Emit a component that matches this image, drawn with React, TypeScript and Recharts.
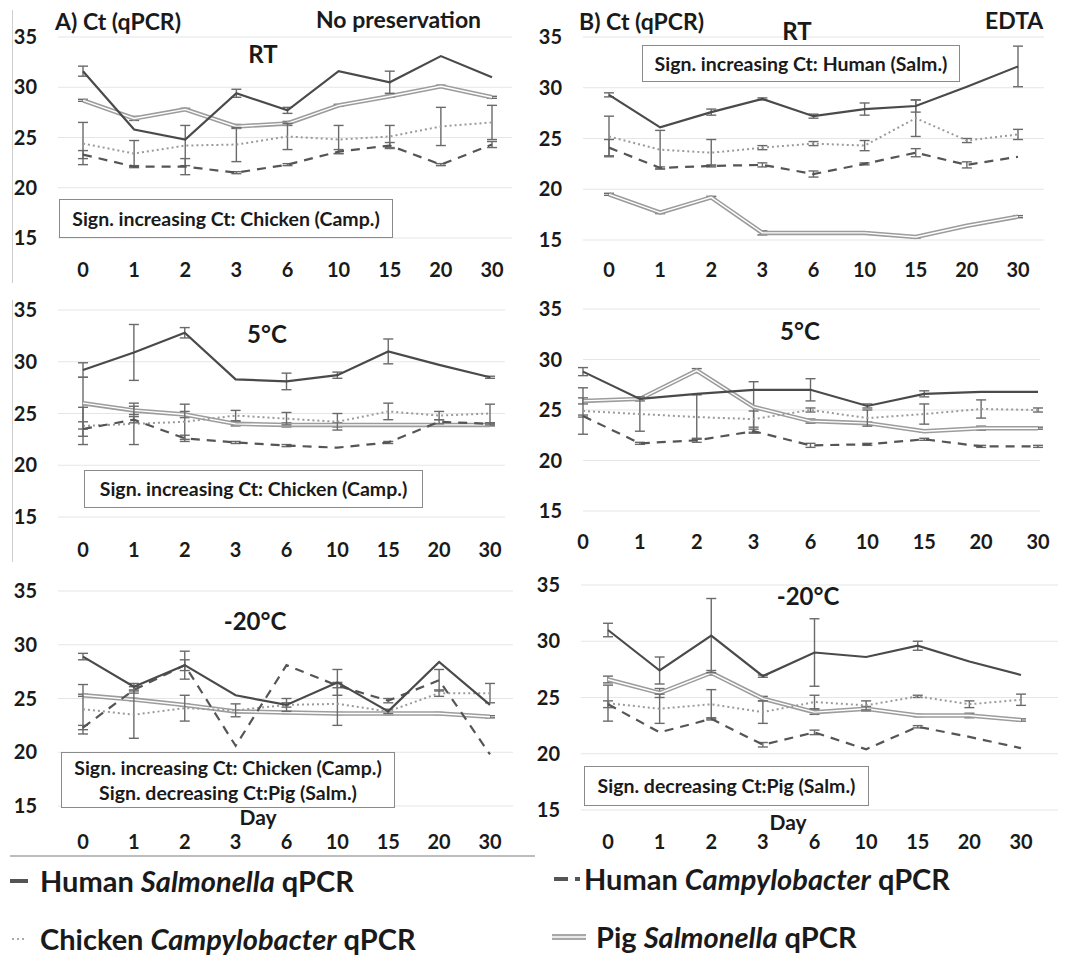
import { LineChart, Line, XAxis, YAxis, CartesianGrid, ErrorBar } from 'recharts';

const DAYS = ['0', '1', '2', '3', '6', '10', '15', '20', '30'];
const CT_TICKS = [15, 20, 25, 30, 35];

// A) no preservation, RT
const aRtHumanSalm = [31.6, 25.8, 24.8, 29.4, 27.7, 31.6, 30.5, 33.1, 31.0];
const aRtHumanSalmErr = [0.5, 0, 0, 0.4, 0.3, 0, 1.1, 0, 0];
const aRtHumanCamp = [23.3, 22.1, 22.1, 21.5, 22.3, 23.6, 24.2, 22.3, 24.3];
const aRtHumanCampErr = [0.4, 0.1, 0.8, 0.1, 0.1, 0.2, 0.3, 0.1, 0.3];
const aRtChickenCamp = [24.4, 23.4, 24.2, 24.3, 25.1, 24.8, 25.1, 26.1, 26.5];
const aRtChickenCampErr = [2.1, 1.3, 2.0, 1.7, 1.3, 1.4, 1.1, 1.9, 1.7];
const aRtPigSalm = [28.7, 26.9, 27.8, 26.1, 26.4, 28.2, 29.1, 30.1, 29.0];
const aRtPigSalmErr = [0.1, 0.2, 0.1, 0.2, 0.2, 0.1, 0.1, 0.1, 0.1];

// A) no preservation, 5°C
const a5HumanSalm = [29.2, 30.9, 32.8, 28.3, 28.1, 28.7, 31.0, 29.7, 28.5];
const a5HumanSalmErr = [0.7, 2.7, 0.5, 0, 0.8, 0.3, 1.2, 0, 0.1];
const a5HumanCamp = [23.5, 24.4, 22.6, 22.2, 21.9, 21.7, 22.2, 24.2, 24.0];
const a5HumanCampErr = [0.7, 0.3, 0.3, 0.1, 0.1, 0, 0.1, 0.2, 0.1];
const a5ChickenCamp = [23.8, 24.0, 24.2, 24.8, 24.5, 24.2, 25.2, 24.8, 25.0];
const a5ChickenCampErr = [1.8, 2.0, 1.7, 0.5, 0.6, 0.8, 0.8, 0.4, 0.9];
const a5PigSalm = [26.0, 25.3, 24.9, 24.0, 23.9, 23.9, 23.9, 23.9, 23.9];
const a5PigSalmErr = [2.5, 0.4, 0.3, 0.2, 0.2, 0.2, 0.1, 0.1, 0.1];

// A) no preservation, -20°C
const aFrHumanSalm = [28.9, 26.1, 28.1, 25.3, 24.4, 26.5, 23.8, 28.4, 24.4];
const aFrHumanSalmErr = [0.3, 0.3, 1.3, 0, 0.2, 1.2, 0, 0, 0];
const aFrHumanCamp = [22.3, 25.8, 28.1, 20.6, 28.1, 26.2, 24.8, 26.7, 19.8];
const aFrHumanCampErr = [0.2, 0.3, 0.5, 0, 0, 0.2, 0.2, 1.0, 0];
const aFrChickenCamp = [24.0, 23.5, 24.1, 23.9, 24.4, 24.5, 23.8, 25.5, 25.5];
const aFrChickenCampErr = [2.3, 2.2, 1.2, 0.6, 0.6, 2.0, 0.2, 0.3, 0.9];
const aFrPigSalm = [25.3, 24.9, 24.4, 23.8, 23.7, 23.6, 23.6, 23.6, 23.3];
const aFrPigSalmErr = [0.1, 0.1, 0.1, 0.1, 0.1, 0.1, 0.1, 0.1, 0.1];

// B) EDTA, RT
const bRtHumanSalm = [29.3, 26.1, 27.6, 28.9, 27.2, 27.9, 28.2, 30.1, 32.1];
const bRtHumanSalmErr = [0.2, 0, 0.3, 0.1, 0.2, 0.6, 0.6, 0, 2.0];
const bRtHumanCamp = [24.1, 22.1, 22.3, 22.4, 21.5, 22.5, 23.6, 22.4, 23.2];
const bRtHumanCampErr = [0.8, 0.1, 0.1, 0.2, 0.3, 0.1, 0.4, 0.3, 0];
const bRtChickenCamp = [25.2, 23.9, 23.6, 24.1, 24.5, 24.3, 27.0, 24.8, 25.4];
const bRtChickenCampErr = [2.0, 1.9, 1.3, 0.2, 0.2, 0.5, 1.8, 0.2, 0.5];
const bRtPigSalm = [19.5, 17.7, 19.2, 15.7, 15.7, 15.7, 15.3, 16.4, 17.3];
const bRtPigSalmErr = [0.1, 0.1, 0.1, 0.2, 0.1, 0.1, 0.1, 0, 0.1];

// B) EDTA, 5°C
const b5HumanSalm = [28.8, 26.1, 26.6, 27.0, 27.0, 25.4, 26.6, 26.8, 26.8];
const b5HumanSalmErr = [0.4, 0, 0, 0, 1.1, 0.2, 0.3, 0, 0];
const b5HumanCamp = [24.4, 21.7, 22.0, 22.9, 21.5, 21.6, 22.1, 21.4, 21.4];
const b5HumanCampErr = [0.1, 0.1, 0.2, 0.2, 0.2, 0.1, 0.1, 0.1, 0.1];
const b5ChickenCamp = [24.9, 24.6, 24.3, 24.1, 25.0, 24.2, 24.6, 25.1, 25.0];
const b5ChickenCampErr = [2.3, 1.7, 2.2, 0.8, 0.2, 0.8, 1.0, 0.9, 0.2];
const b5PigSalm = [25.9, 26.1, 28.9, 25.3, 23.9, 23.7, 22.9, 23.2, 23.2];
const b5PigSalmErr = [0.3, 0.2, 0.2, 2.5, 0.2, 0.1, 0.1, 0.2, 0.1];

// B) EDTA, -20°C
const bFrHumanSalm = [31.0, 27.4, 30.5, 26.9, 29.0, 28.6, 29.6, 28.2, 27.0];
const bFrHumanSalmErr = [0.6, 1.2, 3.3, 0.1, 3.0, 0, 0.4, 0, 0];
const bFrHumanCamp = [24.4, 21.9, 23.1, 20.8, 21.9, 20.4, 22.4, 21.5, 20.5];
const bFrHumanCampErr = [0.3, 0, 0.1, 0.2, 0.2, 0, 0.1, 0, 0];
const bFrChickenCamp = [24.5, 24.0, 24.4, 23.7, 24.6, 24.3, 25.1, 24.4, 24.8];
const bFrChickenCampErr = [1.6, 1.3, 1.3, 1.0, 0.6, 0.4, 0.1, 0.3, 0.5];
const bFrPigSalm = [26.6, 25.4, 27.2, 24.9, 23.7, 24.0, 23.4, 23.4, 23.0];
const bFrPigSalmErr = [0.3, 0.4, 0.2, 0.2, 0.2, 0.2, 0.1, 0.2, 0.1];

const FONT = 'Lato, "Open Sans", sans-serif';
const TEXT = '#1a1a1a';

type Row = Record<string, string | number>;

function rows(
  hs: number[], hsErr: number[],
  hc: number[], hcErr: number[],
  cc: number[], ccErr: number[],
  ps: number[], psErr: number[],
): Row[] {
  return DAYS.map((day, i) => ({
    day,
    hs: hs[i], hsErr: hsErr[i],
    hc: hc[i], hcErr: hcErr[i],
    cc: cc[i], ccErr: ccErr[i],
    ps: ps[i], psErr: psErr[i],
  }));
}

// box = chart rectangle on the page, plot = grid extent, first/last = x of day 0 / day 30
type PanelProps = {
  data: Row[];
  box: { x: number; y: number; w: number; h: number };
  plot: { left: number; right: number; top: number; bottom: number };
  first: number;
  last: number;
  tickGap: number;
};

function Panel({ data, box, plot, first, last, tickGap }: PanelProps) {
  return (
    <div style={{ position: 'absolute', left: box.x, top: box.y }}>
      <LineChart
        width={box.w}
        height={box.h}
        data={data}
        margin={{ top: plot.top - box.y, right: box.x + box.w - plot.right, bottom: 0, left: 0 }}
      >
        <CartesianGrid vertical={false} stroke="#e6e6e6" strokeWidth={1.2} />
        <XAxis
          dataKey="day"
          height={box.y + box.h - plot.bottom}
          padding={{ left: first - plot.left, right: plot.right - last }}
          axisLine={false}
          tickLine={false}
          tickSize={0}
          tickMargin={tickGap}
          interval={0}
          tick={{ fontSize: 20, fontWeight: 700, fill: TEXT, fontFamily: FONT }}
        />
        <YAxis
          width={plot.left - box.x}
          domain={[15, 35]}
          ticks={CT_TICKS}
          interval={0}
          allowDataOverflow
          axisLine={false}
          tickLine={false}
          tickSize={0}
          tickMargin={21}
          tick={{ fontSize: 20, fontWeight: 700, fill: TEXT, fontFamily: FONT }}
        />
        <Line dataKey="ps" stroke="#9c9c9c" strokeWidth={4.5} dot={false} isAnimationActive={false}>
          <ErrorBar dataKey="psErr" width={5} strokeWidth={1.4} stroke="#6a6a6a" direction="y" />
        </Line>
        <Line dataKey="ps" stroke="#ffffff" strokeWidth={1.4} dot={false} isAnimationActive={false} />
        <Line dataKey="cc" stroke="#9a9a9a" strokeWidth={2} strokeDasharray="2 3" dot={false} isAnimationActive={false}>
          <ErrorBar dataKey="ccErr" width={5} strokeWidth={1.4} stroke="#6a6a6a" direction="y" />
        </Line>
        <Line dataKey="hc" stroke="#555555" strokeWidth={2.2} strokeDasharray="9 7" dot={false} isAnimationActive={false}>
          <ErrorBar dataKey="hcErr" width={5} strokeWidth={1.4} stroke="#6a6a6a" direction="y" />
        </Line>
        <Line dataKey="hs" stroke="#4a4a4a" strokeWidth={2.2} dot={false} isAnimationActive={false}>
          <ErrorBar dataKey="hsErr" width={5} strokeWidth={1.4} stroke="#6a6a6a" direction="y" />
        </Line>
      </LineChart>
    </div>
  );
}

function Label({ x, y, size, children, center }: { x: number; y: number; size: number; children: React.ReactNode; center?: boolean }) {
  return (
    <div
      style={{
        position: 'absolute',
        left: x,
        top: y - size * 0.62,
        fontSize: size,
        fontWeight: 700,
        lineHeight: 1.2,
        whiteSpace: 'nowrap',
        transform: center ? 'translateX(-50%)' : undefined,
        color: TEXT,
      }}
    >
      {children}
    </div>
  );
}

function Note({ x, y, w, h, lines }: { x: number; y: number; w: number; h: number; lines: string[] }) {
  return (
    <div
      style={{
        position: 'absolute',
        left: x,
        top: y,
        width: w,
        height: h,
        boxSizing: 'border-box',
        border: '1.5px solid #8a8a8a',
        background: '#fff',
        display: 'flex',
        flexDirection: 'column',
        justifyContent: 'center',
        alignItems: 'center',
        fontSize: 19.5,
        fontWeight: 700,
        lineHeight: 1.3,
        color: TEXT,
        whiteSpace: 'nowrap',
      }}
    >
      {lines.map((l) => (
        <div key={l}>{l}</div>
      ))}
    </div>
  );
}

function LegendItem({ x, y, kind, pre, species }: { x: number; y: number; kind: string; pre: string; species: string }) {
  const stroke =
    kind === 'solid' ? (
      <line x1={0} y1={10} x2={18} y2={10} stroke="#555" strokeWidth={4} />
    ) : kind === 'dash' ? (
      <g stroke="#555" strokeWidth={4}>
        <line x1={0} y1={10} x2={14} y2={10} />
        <line x1={21} y1={10} x2={26} y2={10} />
      </g>
    ) : kind === 'dot' ? (
      <line x1={2} y1={10} x2={16} y2={10} stroke="#aaa" strokeWidth={2} strokeDasharray="2 3" />
    ) : (
      <g>
        <line x1={0} y1={10} x2={34} y2={10} stroke="#a8a8a8" strokeWidth={6} />
        <line x1={0} y1={10} x2={34} y2={10} stroke="#fff" strokeWidth={1.5} />
      </g>
    );
  return (
    <div style={{ position: 'absolute', left: x, top: y - 19, display: 'flex', alignItems: 'center', whiteSpace: 'nowrap' }}>
      <svg width={kind === 'double' ? 40 : 30} height={20}>{stroke}</svg>
      <span style={{ fontSize: 29, fontWeight: 700, color: TEXT, marginLeft: kind === 'double' ? 4 : 0 }}>
        {pre} <i>{species}</i> qPCR
      </span>
    </div>
  );
}

export default function App() {
  const aRt = rows(aRtHumanSalm, aRtHumanSalmErr, aRtHumanCamp, aRtHumanCampErr, aRtChickenCamp, aRtChickenCampErr, aRtPigSalm, aRtPigSalmErr);
  const a5 = rows(a5HumanSalm, a5HumanSalmErr, a5HumanCamp, a5HumanCampErr, a5ChickenCamp, a5ChickenCampErr, a5PigSalm, a5PigSalmErr);
  const aFr = rows(aFrHumanSalm, aFrHumanSalmErr, aFrHumanCamp, aFrHumanCampErr, aFrChickenCamp, aFrChickenCampErr, aFrPigSalm, aFrPigSalmErr);
  const bRt = rows(bRtHumanSalm, bRtHumanSalmErr, bRtHumanCamp, bRtHumanCampErr, bRtChickenCamp, bRtChickenCampErr, bRtPigSalm, bRtPigSalmErr);
  const b5 = rows(b5HumanSalm, b5HumanSalmErr, b5HumanCamp, b5HumanCampErr, b5ChickenCamp, b5ChickenCampErr, b5PigSalm, b5PigSalmErr);
  const bFr = rows(bFrHumanSalm, bFrHumanSalmErr, bFrHumanCamp, bFrHumanCampErr, bFrChickenCamp, bFrChickenCampErr, bFrPigSalm, bFrPigSalmErr);

  return (
    <div style={{ position: 'absolute', left: 0, top: 0, width: 1070, height: 970, background: '#fff', fontFamily: FONT, overflow: 'hidden' }}>
      {/* frame lines */}
      <div style={{ position: 'absolute', left: 12, top: 10, width: 1, height: 273, background: '#cfcfcf' }} />
      <div style={{ position: 'absolute', left: 12, top: 300, width: 1, height: 262, background: '#cfcfcf' }} />
      <div style={{ position: 'absolute', left: 10, top: 855, width: 525, height: 1.5, background: '#bdbdbd' }} />

      <Panel data={aRt} box={{ x: 0, y: 0, w: 530, h: 290 }} plot={{ left: 58, right: 512, top: 37, bottom: 238 }} first={83} last={492} tickGap={25} />
      <Panel data={a5} box={{ x: 0, y: 290, w: 530, h: 280 }} plot={{ left: 58, right: 505, top: 310, bottom: 517 }} first={83} last={490} tickGap={26} />
      <Panel data={aFr} box={{ x: 0, y: 570, w: 530, h: 290 }} plot={{ left: 58, right: 513, top: 591, bottom: 806 }} first={83} last={490} tickGap={29} />
      <Panel data={bRt} box={{ x: 530, y: 0, w: 540, h: 290 }} plot={{ left: 583, right: 1044, top: 37, bottom: 240 }} first={609} last={1018} tickGap={23} />
      <Panel data={b5} box={{ x: 530, y: 290, w: 540, h: 280 }} plot={{ left: 583, right: 1040, top: 309, bottom: 511 }} first={583} last={1038} tickGap={24} />
      <Panel data={bFr} box={{ x: 530, y: 570, w: 540, h: 290 }} plot={{ left: 581, right: 1058, top: 585, bottom: 810 }} first={608} last={1021} tickGap={25} />

      {/* panel titles */}
      <Label x={55} y={22} size={23}>A) Ct (qPCR)</Label>
      <Label x={316} y={20} size={23}>No preservation</Label>
      <Label x={263} y={55} size={24} center>RT</Label>
      <Label x={579} y={22} size={23}>B) Ct (qPCR)</Label>
      <Label x={797} y={32} size={24} center>RT</Label>
      <Label x={985} y={21} size={23}>EDTA</Label>
      <Label x={267} y={335} size={24} center>5°C</Label>
      <Label x={800} y={332} size={24} center>5°C</Label>
      <Label x={255} y={622} size={24} center>-20°C</Label>
      <Label x={808} y={597} size={24} center>-20°C</Label>
      <Label x={258} y={817} size={21} center>Day</Label>
      <Label x={788} y={822} size={21} center>Day</Label>

      {/* significance notes */}
      <Note x={59} y={199} w={334} h={39} lines={['Sign. increasing Ct: Chicken (Camp.)']} />
      <Note x={642} y={45} w={318} h={37} lines={['Sign. increasing Ct: Human (Salm.)']} />
      <Note x={84} y={470} w={339} h={38} lines={['Sign. increasing Ct: Chicken (Camp.)']} />
      <Note x={61} y={752} w={334} h={56} lines={['Sign. increasing Ct: Chicken (Camp.)', 'Sign. decreasing Ct:Pig (Salm.)']} />
      <Note x={584} y={766} w={285} h={40} lines={['Sign. decreasing Ct:Pig (Salm.)']} />

      {/* legend */}
      <LegendItem x={10} y={882} kind="solid" pre="Human" species="Salmonella" />
      <LegendItem x={554} y={880} kind="dash" pre="Human" species="Campylobacter" />
      <LegendItem x={10} y={940} kind="dot" pre="Chicken" species="Campylobacter" />
      <LegendItem x={552} y={938} kind="double" pre="Pig" species="Salmonella" />
    </div>
  );
}
